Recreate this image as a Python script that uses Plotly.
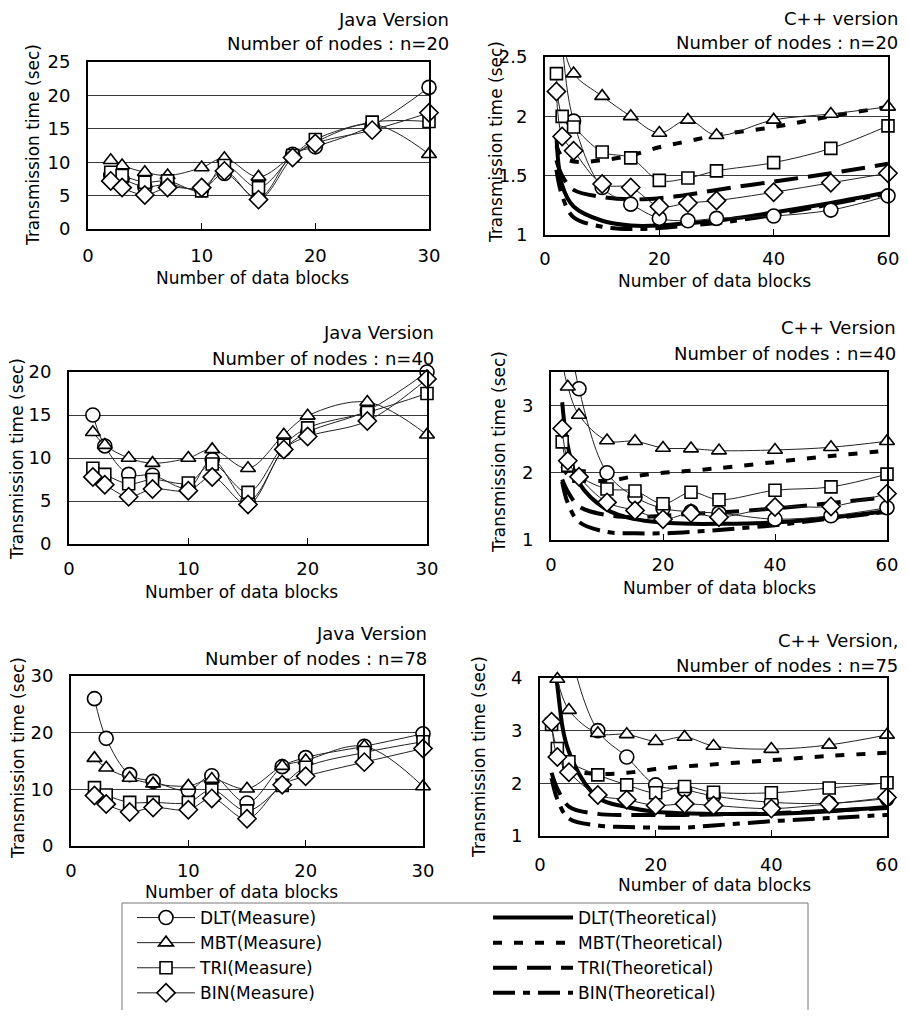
import plotly.graph_objects as go

# The page body has an 8px margin, so the figure is drawn 8px in from the window corner;
# it is sized so that the page does not overflow the 908x1018 window.
OFF = 8
W, H = 892, 1002
FONT = "DejaVu Sans"

# ---------------- data ----------------
java_x = [2, 3, 5, 7, 10, 12, 15, 18, 20, 25, 30]
cpp_x = [2, 3, 5, 10, 15, 20, 25, 30, 40, 50, 60]

# Java, n=20
j20_dlt = [8.0, 7.5, 6.3, 6.7, 5.9, 8.3, 4.6, 11.2, 12.3, 15.5, 21.2]
j20_mbt = [10.3, 9.5, 8.5, 8.0, 9.2, 10.6, 7.8, 11.0, 13.0, 15.7, 11.2]
j20_tri = [8.5, 8.0, 7.0, 7.2, 5.7, 9.5, 6.2, 11.0, 13.4, 16.0, 16.1]
j20_bin = [7.2, 6.2, 5.1, 6.2, 6.2, 8.7, 4.4, 10.7, 12.8, 14.8, 17.4]

# Java, n=40
j40_dlt = [15.0, 11.4, 8.1, 8.0, 6.5, 9.8, 5.0, 11.0, 13.0, 15.5, 20.0]
j40_mbt = [13.0, 11.5, 10.0, 9.4, 10.0, 11.0, 8.8, 12.7, 14.9, 16.5, 12.7]
j40_tri = [8.8, 8.1, 7.0, 7.5, 7.1, 9.3, 6.0, 11.5, 13.5, 15.3, 17.5]
j40_bin = [7.8, 6.9, 5.5, 6.4, 6.2, 7.8, 4.6, 11.0, 12.5, 14.3, 19.2]

# Java, n=78
j78_dlt = [26.0, 19.0, 12.6, 11.4, 9.8, 12.4, 7.6, 14.0, 15.6, 17.6, 19.8]
j78_mbt = [15.5, 13.8, 12.0, 11.0, 10.6, 11.8, 10.1, 14.1, 15.1, 17.6, 10.5]
j78_tri = [10.3, 9.0, 7.7, 7.7, 7.7, 9.9, 6.2, 10.7, 13.9, 16.5, 18.4]
j78_bin = [8.9, 7.4, 6.0, 6.8, 6.4, 8.4, 4.8, 10.8, 12.3, 14.8, 17.2]

# C++, n=20 (measured)
c20_dlt = [3.2, 2.6, 1.96, 1.40, 1.26, 1.14, 1.12, 1.14, 1.16, 1.21, 1.33]
c20_mbt = [3.0, 2.65, 2.36, 2.17, 2.00, 1.86, 1.97, 1.84, 1.97, 2.02, 2.08]
c20_tri = [2.36, 2.00, 1.91, 1.70, 1.65, 1.46, 1.48, 1.54, 1.61, 1.73, 1.92]
c20_bin = [2.21, 1.83, 1.71, 1.43, 1.40, 1.24, 1.27, 1.29, 1.36, 1.44, 1.52]
# C++, n=20 (theoretical)
c20_t_dlt = [1.84, 1.42, 1.24, 1.12, 1.08, 1.08, 1.10, 1.12, 1.19, 1.27, 1.36]
c20_t_mbt = [1.75, 1.66, 1.62, 1.63, 1.67, 1.74, 1.79, 1.84, 1.91, 2.00, 2.08]
c20_t_tri = [1.63, 1.50, 1.38, 1.32, 1.30, 1.31, 1.34, 1.38, 1.45, 1.52, 1.60]
c20_t_bin = [1.55, 1.33, 1.15, 1.07, 1.05, 1.06, 1.08, 1.10, 1.17, 1.26, 1.35]

# C++, n=40 (measured)
c40_dlt = [5.2, 4.3, 3.25, 2.00, 1.64, 1.47, 1.42, 1.40, 1.31, 1.36, 1.48]
c40_mbt = [3.65, 3.28, 2.86, 2.48, 2.47, 2.37, 2.36, 2.33, 2.34, 2.38, 2.47]
c40_tri = [2.46, 2.11, 1.95, 1.76, 1.73, 1.54, 1.71, 1.60, 1.74, 1.79, 1.98]
c40_bin = [2.66, 2.18, 1.94, 1.56, 1.44, 1.31, 1.40, 1.34, 1.49, 1.50, 1.69]
# C++, n=40 (theoretical)
c40_t_dlt = [3.05, 2.40, 1.85, 1.45, 1.31, 1.26, 1.24, 1.24, 1.26, 1.33, 1.43]
c40_t_mbt = [2.10, 1.97, 1.90, 1.88, 1.95, 2.00, 2.03, 2.07, 2.16, 2.25, 2.33]
c40_t_tri = [1.90, 1.72, 1.50, 1.37, 1.34, 1.36, 1.39, 1.41, 1.47, 1.55, 1.64]
c40_t_bin = [1.87, 1.55, 1.27, 1.12, 1.10, 1.10, 1.12, 1.15, 1.22, 1.32, 1.42]

# C++, n=75 (measured)
c75_dlt = [7.0, 6.0, 4.6, 3.00, 2.50, 1.97, 1.88, 1.76, 1.64, 1.62, 1.71]
c75_mbt = [None, 3.98, 3.39, 2.95, 2.93, 2.80, 2.88, 2.71, 2.65, 2.73, 2.92]
c75_tri = [3.12, 2.66, 2.41, 2.16, 1.97, 1.82, 1.94, 1.83, 1.82, 1.91, 2.01]
c75_bin = [3.17, 2.50, 2.21, 1.78, 1.69, 1.58, 1.61, 1.58, 1.52, 1.61, 1.73]
# C++, n=75 (theoretical)
c75_t_dlt = [5.2, 3.85, 2.60, 1.73, 1.55, 1.46, 1.43, 1.42, 1.42, 1.47, 1.55]
c75_t_mbt = [2.60, 2.40, 2.25, 2.18, 2.20, 2.27, 2.32, 2.36, 2.44, 2.52, 2.58]
c75_t_tri = [2.20, 1.90, 1.56, 1.42, 1.40, 1.40, 1.40, 1.41, 1.43, 1.48, 1.53]
c75_t_bin = [2.10, 1.70, 1.33, 1.20, 1.17, 1.16, 1.16, 1.20, 1.28, 1.34, 1.40]

algos = ["DLT", "MBT", "TRI", "BIN"]

# ---------------- styles / layout ----------------
symbols = ["circle", "triangle-up", "square", "diamond"]
msizes = [14, 13, 12, 14]
dashes = ["solid", "9px,12px", "24px,10px", "22px,8px,7px,8px"]

# all positions below are window pixels of the reference picture
panels = [
    dict(x=(88, 429), y=(62, 229), xr=[0, 30], xd=10, yr=[0, 25], yd=5, xs=java_x,
         meas=[j20_dlt, j20_mbt, j20_tri, j20_bin], theo=None,
         t1="Java Version", t2="Number of nodes : n=20", tx=450, t1y=20, t2y=44,
         xt=(252, 278), yt=(33, 145), xso=9),
    dict(x=(545, 888), y=(57, 235), xr=[0, 60], xd=20, yr=[1, 2.5], yd=0.5, xs=cpp_x,
         meas=[c20_dlt, c20_mbt, c20_tri, c20_bin],
         theo=[c20_t_dlt, c20_t_mbt, c20_t_tri, c20_t_bin],
         t1="C++ version", t2="Number of nodes : n=20", tx=899, t1y=19, t2y=42,
         xt=(714, 281), yt=(496, 142), xso=6),
    dict(x=(69, 427), y=(372, 544), xr=[0, 30], xd=10, yr=[0, 20], yd=5, xs=java_x,
         meas=[j40_dlt, j40_mbt, j40_tri, j40_bin], theo=None,
         t1="Java Version", t2="Number of nodes : n=40", tx=435, t1y=332, t2y=358,
         xt=(242, 592), yt=(17, 459), xso=7),
    dict(x=(551, 887), y=(372, 540), xr=[0, 60], xd=20, yr=[1, 3.5], yd=1, xs=cpp_x,
         meas=[c40_dlt, c40_mbt, c40_tri, c40_bin],
         theo=[c40_t_dlt, c40_t_mbt, c40_t_tri, c40_t_bin],
         t1="C++ Version", t2="Number of nodes : n=40", tx=897, t1y=327, t2y=353,
         xt=(719, 588), yt=(499, 452), xso=7),
    dict(x=(71, 423), y=(676, 846), xr=[0, 30], xd=10, yr=[0, 30], yd=10, xs=java_x,
         meas=[j78_dlt, j78_mbt, j78_tri, j78_bin], theo=None,
         t1="Java Version", t2="Number of nodes : n=78", tx=428, t1y=633, t2y=658,
         xt=(242, 892), yt=(18, 758), xso=7),
    dict(x=(540, 887), y=(678, 836), xr=[0, 60], xd=20, yr=[1, 4], yd=1, xs=cpp_x,
         meas=[c75_dlt, c75_mbt, c75_tri, c75_bin],
         theo=[c75_t_dlt, c75_t_mbt, c75_t_tri, c75_t_bin],
         t1="C++ Version,", t2="Number of nodes : n=75", tx=899, t1y=640, t2y=665,
         xt=(714, 885), yt=(479, 757), xso=11),
]


def PX(p):
    return (p - OFF) / W


def PY(p):
    return 1 - (p - OFF) / H


fig = go.Figure()
annotations = []

for i, p in enumerate(panels, start=1):
    xa = "x" if i == 1 else f"x{i}"
    ya = "y" if i == 1 else f"y{i}"
    legend_panel = (i == 2)
    if p["theo"] is not None:
        for k, ys in enumerate(p["theo"]):
            fig.add_trace(go.Scatter(
                x=p["xs"], y=ys, mode="lines", xaxis=xa, yaxis=ya,
                name=f"{algos[k]}(Theoretical)",
                line=dict(color="black", width=4, dash=dashes[k], shape="spline", smoothing=1.0),
                showlegend=legend_panel, legend="legend2", legendrank=k + 1,
                hoverinfo="skip"))
    for k, ys in enumerate(p["meas"]):
        fig.add_trace(go.Scatter(
            x=p["xs"], y=ys, mode="lines+markers", xaxis=xa, yaxis=ya,
            name=f"{algos[k]}(Measure)",
            line=dict(color="#222222", width=1, shape="spline", smoothing=1.0),
            marker=dict(symbol=symbols[k], size=msizes[k], color="white",
                        line=dict(color="black", width=1.6)),
            cliponaxis=False,
            showlegend=legend_panel, legend="legend", legendrank=k + 1,
            hoverinfo="skip"))

    xkey = "xaxis" if i == 1 else f"xaxis{i}"
    ykey = "yaxis" if i == 1 else f"yaxis{i}"
    fig.layout[xkey] = dict(
        domain=[PX(p["x"][0]), PX(p["x"][1])], anchor=ya, range=p["xr"], dtick=p["xd"],
        tick0=0, ticks="inside", ticklen=6, tickwidth=1, tickcolor="black",
        showline=True, linewidth=2, linecolor="black", mirror=True,
        showgrid=False, zeroline=False, ticklabelstandoff=p["xso"], automargin=False,
        tickfont=dict(family=FONT, size=18, color="black"))
    fig.layout[ykey] = dict(
        domain=[PY(p["y"][1]), PY(p["y"][0])], anchor=xa, range=p["yr"], dtick=p["yd"],
        tick0=0, ticks="", showline=True, linewidth=2, linecolor="black", mirror=True,
        showgrid=True, gridcolor="#3a3a3a", gridwidth=1, zeroline=False,
        ticklabelstandoff=12, automargin=False,
        tickfont=dict(family=FONT, size=18, color="black"))

    for txt, ty in ((p["t1"], p["t1y"]), (p["t2"], p["t2y"])):
        annotations.append(dict(text=txt, x=PX(p["tx"]), y=PY(ty), xref="paper", yref="paper",
                                xanchor="right", yanchor="middle", showarrow=False, borderpad=0,
                                font=dict(family=FONT, size=18, color="black")))
    annotations.append(dict(text="Number of data blocks", x=PX(p["xt"][0]), y=PY(p["xt"][1]),
                            xref="paper", yref="paper", xanchor="center", yanchor="middle",
                            showarrow=False, borderpad=0,
                            font=dict(family=FONT, size=17, color="black")))
    annotations.append(dict(text="Transmission time (sec)", x=PX(p["yt"][0]), y=PY(p["yt"][1]),
                            xref="paper", yref="paper", xanchor="center", yanchor="middle",
                            textangle=-90, showarrow=False, borderpad=0,
                            font=dict(family=FONT, size=17, color="black")))

fig.update_layout(
    width=W, height=H, margin=dict(l=0, r=0, t=0, b=0, autoexpand=False),
    paper_bgcolor="white", plot_bgcolor="white",
    annotations=annotations,
    shapes=[dict(type="rect", xref="paper", yref="paper",
                 x0=PX(122), x1=PX(808), y0=PY(903), y1=PY(1030),
                 line=dict(color="#777777", width=1), fillcolor="rgba(0,0,0,0)")],
    legend=dict(x=PX(132), y=PY(900), xanchor="left", yanchor="top", orientation="v",
                itemwidth=58, tracegroupgap=0, bgcolor="rgba(0,0,0,0)", borderwidth=0,
                font=dict(family=FONT, size=17, color="black")),
    legend2=dict(x=PX(488), y=PY(900), xanchor="left", yanchor="top", orientation="v",
                 itemwidth=80, tracegroupgap=0, bgcolor="rgba(0,0,0,0)", borderwidth=0,
                 font=dict(family=FONT, size=17, color="black")),
    font=dict(family=FONT, size=18, color="black"),
)

fig.write_html("out.html")
